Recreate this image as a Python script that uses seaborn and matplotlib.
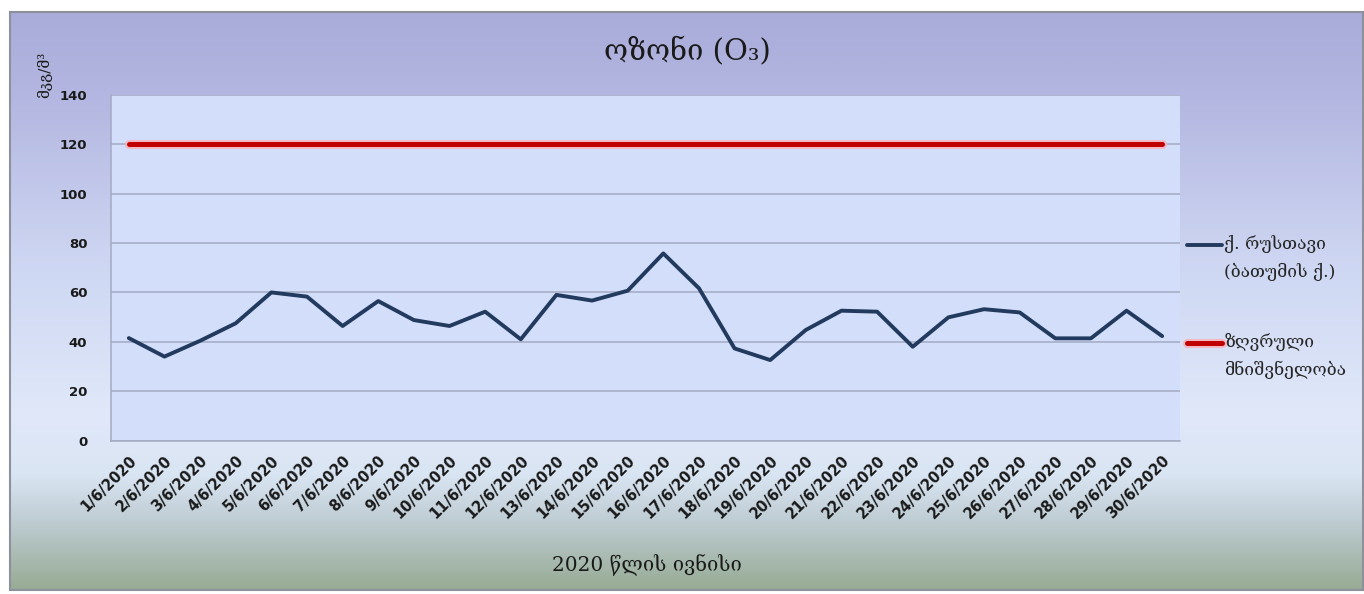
import numpy as np
import pandas as pd
import matplotlib
matplotlib.use("Agg")
import matplotlib.pyplot as plt
import matplotlib.patheffects as pe
from matplotlib.colors import LinearSegmentedColormap
from matplotlib.patches import Rectangle
import seaborn as sns

# Daily ozone concentration, June 2020
dates = [f"{d}/6/2020" for d in range(1, 31)]
rustavi = [41.5, 34.0, 40.4, 47.5, 60.0, 58.3, 46.4, 56.5, 48.8, 46.4,
           52.2, 41.0, 59.0, 56.7, 60.7, 75.8, 61.7, 37.3, 32.6, 44.8,
           52.6, 52.2, 38.0, 49.9, 53.2, 51.9, 41.4, 41.4, 52.6, 42.3]
limit = [120] * 30
y_ticks = [0, 20, 40, 60, 80, 100, 120, 140]

series_label = "ქ. რუსთავი\n(ბათუმის ქ.)"
limit_label = "ზღვრული\nმნიშვნელობა"
title = "ოზონი (O₃)"
x_title = "2020 წლის ივნისი"
y_title = "მკგ/მ³"

sns.set_style("white")
geo = ["DejaVu Serif", "DejaVu Sans"]
plt.rcParams["font.family"] = ["DejaVu Sans"]

W, H = 1364, 594
fig = plt.figure(figsize=(W / 100, H / 100), dpi=100)
fig.patch.set_facecolor("white")

# chart-area background with vertical gradient
bg = fig.add_axes([0, 0, 1, 1])
bg.set_xlim(0, W)
bg.set_ylim(H, 0)
bg.axis("off")
stops = [(0.00, "#a9abd9"), (0.15, "#b4b7e1"), (0.45, "#cfd8f3"),
         (0.70, "#e0e8f9"), (0.80, "#dae5f3"), (0.88, "#bfcdd4"),
         (1.00, "#97ab94")]
cmap = LinearSegmentedColormap.from_list("bg", stops)
grad = np.linspace(0, 1, 256).reshape(-1, 1)
bg.imshow(grad, cmap=cmap, extent=(10, W, 590, 12), aspect="auto",
          interpolation="bilinear")
bg.add_patch(Rectangle((10, 12), W - 11, 578, fill=False,
                       edgecolor="#8c919c", lw=1.5))

# plot area
ax = fig.add_axes([111 / W, 1 - 440.5 / H, (1180 - 111) / W, (440.5 - 95) / H])
ax.set_facecolor("#d3defa")

df = pd.DataFrame({"date": dates, "ozone": rustavi, "limit": limit})

sns.lineplot(data=df, x="date", y="ozone", ax=ax, sort=False,
             color="#223a5e", lw=2.8, label=series_label)
sns.lineplot(data=df, x="date", y="limit", ax=ax, sort=False,
             color="#c00000", lw=3.6, label=limit_label,
             path_effects=[pe.Stroke(linewidth=6.5, foreground="#f2b8c4"),
                           pe.Normal()])

ax.set_xlim(-0.5, len(dates) - 0.5)
ax.set_ylim(0, 140)
ax.set_yticks(y_ticks)
ax.set_yticklabels([str(v) for v in y_ticks], fontsize=9.5,
                   fontweight="bold", color="#1a1a1a")
ax.set_xticks(range(len(dates)))
ax.set_xticklabels(dates, rotation=45, ha="right", rotation_mode="anchor",
                   fontsize=10.5, fontweight="bold", color="#1a1a1a")
ax.tick_params(axis="y", length=5, width=1, color="#a3abc3", pad=12)
ax.tick_params(axis="x", length=0, pad=9)
ax.yaxis.grid(True, color="#a3abc3", lw=1.1)
ax.set_axisbelow(True)
for side in ["top", "right"]:
    ax.spines[side].set_visible(False)
for side in ["left", "bottom"]:
    ax.spines[side].set_color("#a3abc3")
    ax.spines[side].set_linewidth(1.1)
ax.set_xlabel("")
ax.set_ylabel("")

leg = ax.legend(loc="upper left", bbox_to_anchor=(0.992, 0.64), frameon=False,
                handlelength=2.0, handletextpad=0.15, labelspacing=3.0,
                prop={"family": geo, "size": 12.5})
for t in leg.get_texts():
    t.set_linespacing(1.7)
# keep each key level with the first line of its label
for ln in leg.get_lines():
    ln.set_ydata(np.asarray(ln.get_ydata()) + 10)

fig.text(687 / W, 1 - 52 / H, title, ha="center", va="center",
         fontsize=21, family=geo, color="#1a1a1a")
fig.text(647 / W, 1 - 565 / H, x_title, ha="center", va="center",
         fontsize=14.5, family=geo, color="#1a1a1a")
fig.text(45 / W, 1 - 75 / H, y_title, ha="center", va="center",
         rotation=90, fontsize=11, family=geo, color="#1a1a1a")

fig.savefig("out.png", dpi=100)
